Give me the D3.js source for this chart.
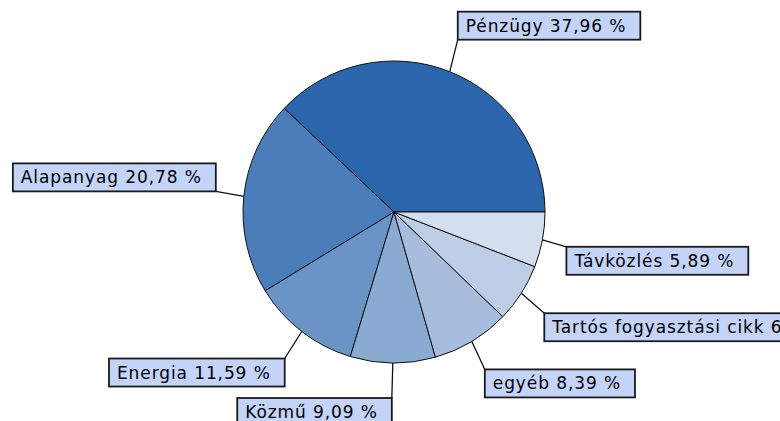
<!DOCTYPE html>
<html><head><meta charset="utf-8">
<script src="https://cdn.jsdelivr.net/npm/d3@7"></script>
<style>html,body{margin:0;padding:0;background:#fff;}svg{display:block;}</style>
</head><body>
<svg id="chart" width="780" height="421"></svg>
<script>
// Data
const categories = ["Pénzügy", "Alapanyag", "Energia", "Közmű", "egyéb", "Tartós fogyasztási cikk", "Távközlés"];
const shares = [37.96, 20.78, 11.59, 9.09, 8.39, 6.30, 5.89];
const valueLabels = ["37,96 %", "20,78 %", "11,59 %", "9,09 %", "8,39 %", "6,30 %", "5,89 %"];

// Styling / layout (not data)
const sliceColors = ["#2b65ac", "#4a7db9", "#6a94c6", "#8aabd1", "#a6bdde", "#bccde5", "#d3dfee"];
// where each label box attaches: [dx, dy] of the attached corner relative to slice anchor, and which corner
const labelLayout = [
  {dx: 8, dy: -32, corner: "bl"},
  {dx: -28, dy: -5, corner: "br"},
  {dx: -17, dy: 27, corner: "tr"},
  {dx: -1, dy: 35, corner: "tr"},
  {dx: 13, dy: 28, corner: "tl"},
  {dx: 23, dy: 20, corner: "tl"},
  {dx: 24, dy: 7, corner: "tl"}
];

const svg = d3.select("#chart");
const cx = 394, cy = 212, R = 151;
const g = svg.append("g").attr("transform", `translate(${cx},${cy})`);

const pie = d3.pie().sort(null).value(d => d)
  .startAngle(Math.PI / 2).endAngle(Math.PI / 2 - 2 * Math.PI);
const arcs = pie(shares);
const arc = d3.arc().innerRadius(0).outerRadius(R);

g.selectAll("path.slice").data(arcs).join("path")
  .attr("class", "slice")
  .attr("d", arc)
  .attr("fill", (d, i) => sliceColors[i])
  .attr("stroke", "#111")
  .attr("stroke-width", 1)
  .attr("stroke-linejoin", "round");

const labels = svg.append("g");
arcs.forEach((d, i) => {
  const mid = (d.startAngle + d.endAngle) / 2;
  const ax = cx + R * Math.sin(mid);
  const ay = cy - R * Math.cos(mid);
  const L = labelLayout[i];
  const px = ax + L.dx, py = ay + L.dy;
  const grp = labels.append("g");
  const txt = grp.append("text")
    .text(categories[i] + " " + valueLabels[i])
    .attr("font-family", "DejaVu Sans, Verdana, sans-serif")
    .attr("font-size", 17)
    .attr("letter-spacing", 0.9)
    .attr("fill", "#000");
  const tw = txt.node().getComputedTextLength();
  const bw = tw + 22, bh = 28;
  let bx = L.corner.includes("l") ? px : px - bw;
  let by = L.corner.includes("t") ? py : py - bh;
  grp.insert("rect", "text")
    .attr("x", bx).attr("y", by).attr("width", bw).attr("height", bh)
    .attr("fill", "#c4d4f9").attr("stroke", "#1a1a1a").attr("stroke-width", 1.8);
  txt.attr("x", bx + 8).attr("y", by + 20);
  labels.append("line")
    .attr("x1", ax).attr("y1", ay).attr("x2", px).attr("y2", py)
    .attr("stroke", "#111").attr("stroke-width", 1.3);
});
</script>
</body></html>
